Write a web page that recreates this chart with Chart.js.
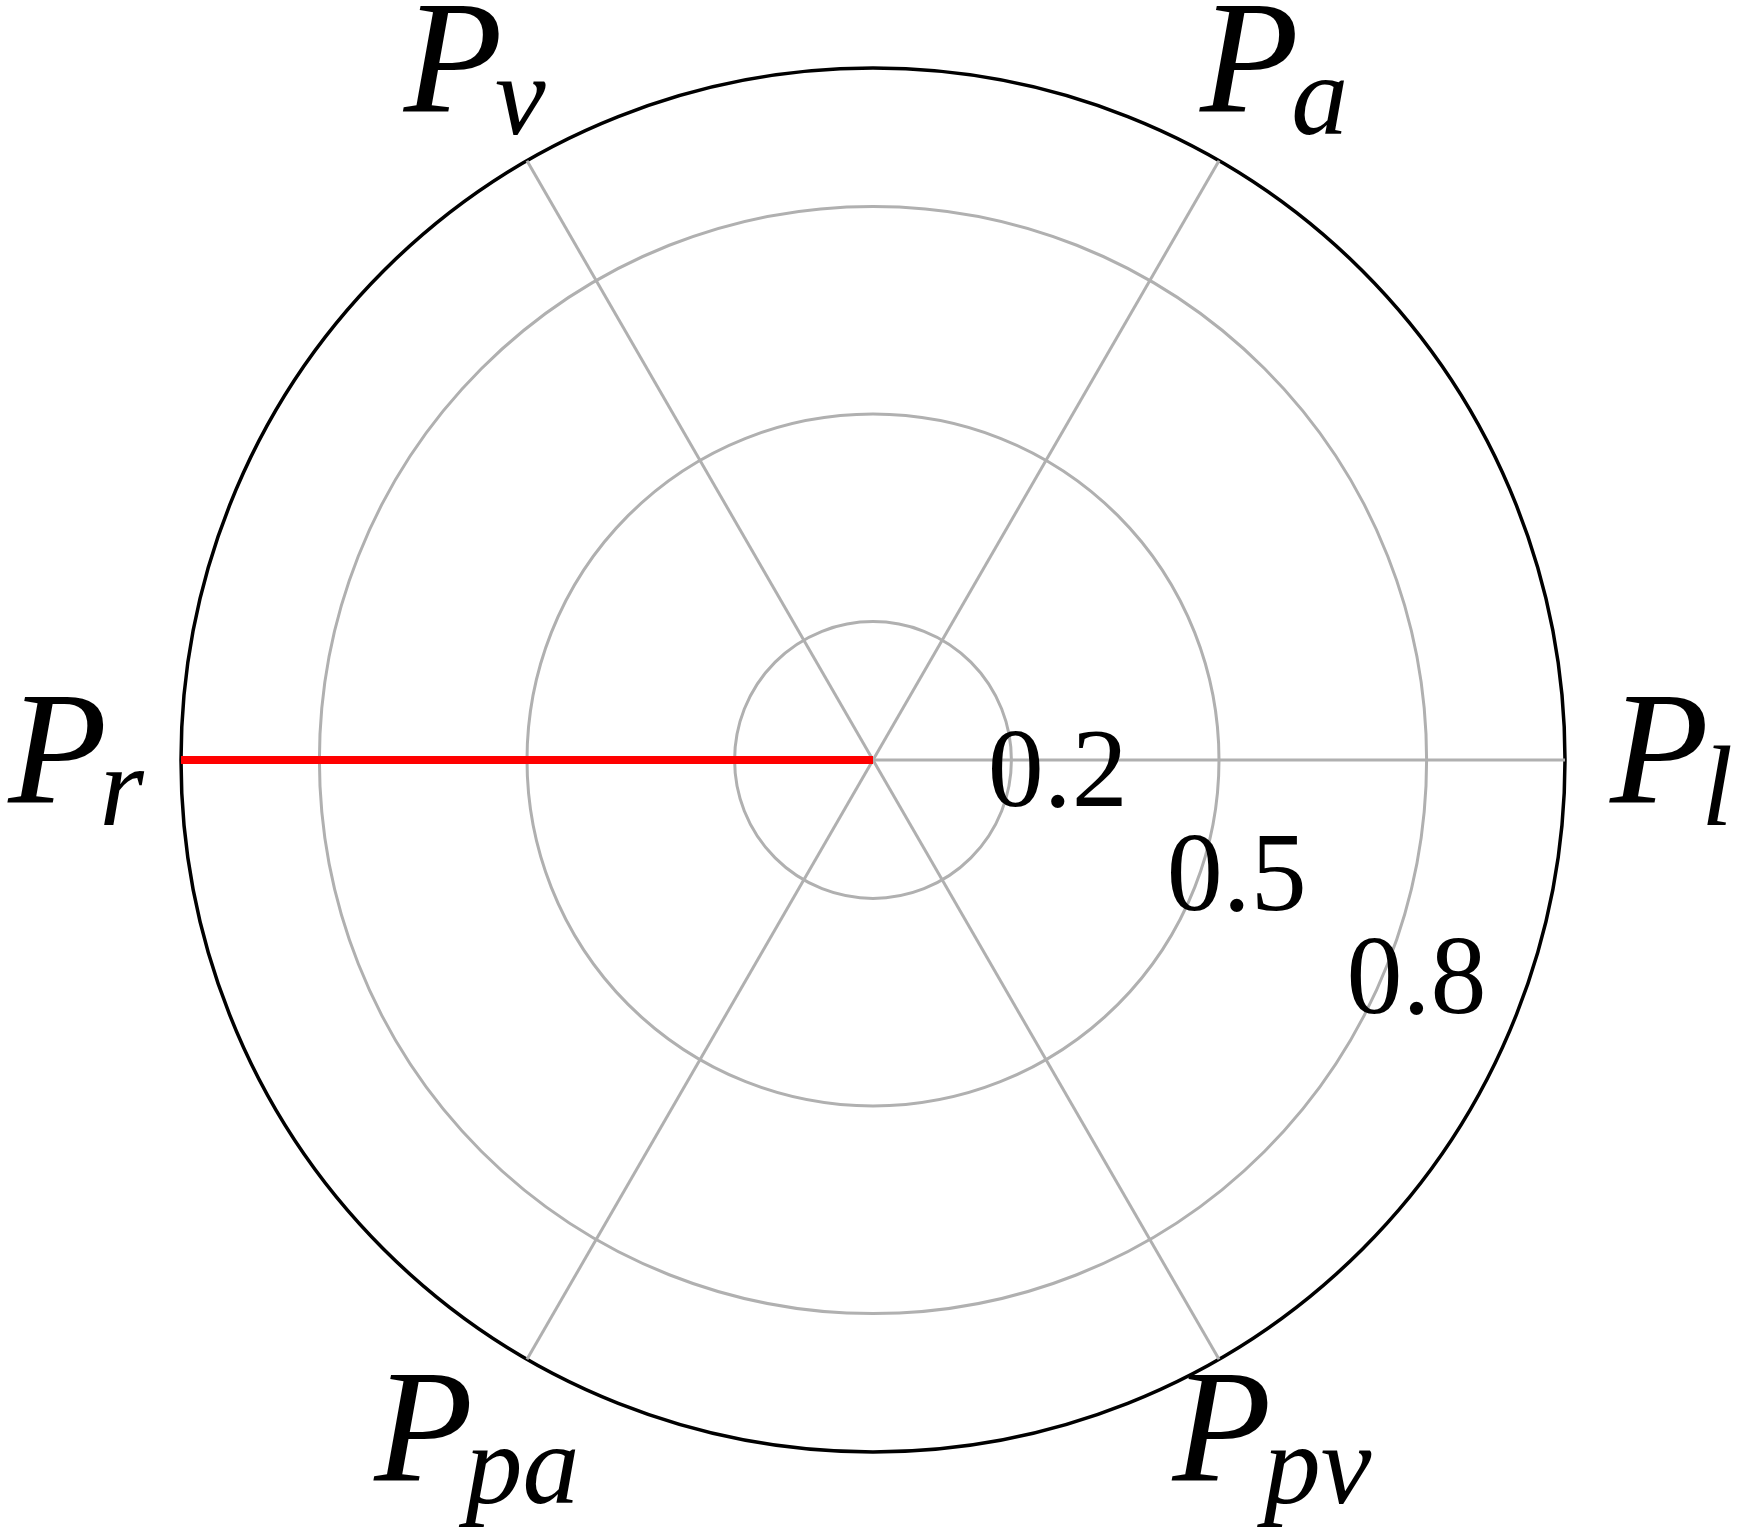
<!DOCTYPE html>
<html>
<head>
<meta charset="utf-8">
<title>Polar</title>
<script src="https://cdn.jsdelivr.net/npm/chart.js@4.4.1/dist/chart.umd.min.js"></script>
<style>
  html, body { margin: 0; padding: 0; background: #fff; }
  #wrap { width: 1738px; height: 1530px; }
</style>
</head>
<body>
<div id="wrap"><canvas id="chart" width="1738" height="1530"></canvas></div>
<script>
// оси по часовой стрелке, начиная справа
const axisLabels = ['P_l', 'P_pv', 'P_pa', 'P_r', 'P_v', 'P_a'];
const seriesValues = [0, 0, 0, 1, 0, 0];
const radialTicks = [0, 0.2, 0.5, 0.8, 1.0];
const tickLabels = ['0.2', '0.5', '0.8'];
const tickLabelValues = [0.2, 0.5, 0.8];

const GRID_GRAY = '#b0b0b0';
const MAIN_SIZE = 162;
const SUB_SIZE = 114;
const TICK_SIZE = 112;

// подписи осей и делений рисуем сами (нужны индексы)
const mathLabels = {
  id: 'mathLabels',
  afterDraw(chart) {
    const s = chart.scales.r;
    const ctx = chart.ctx;
    ctx.save();
    ctx.fillStyle = '#000';
    ctx.textAlign = 'left';
    ctx.textBaseline = 'alphabetic';

    // деления вдоль луча -30°
    ctx.font = `${TICK_SIZE}px "Liberation Serif"`;
    const a = Math.PI / 6;
    tickLabelValues.forEach((v, i) => {
      const d = s.getDistanceFromCenterForValue(v);
      const cx = s.xCenter + d * Math.cos(a) + 64;
      const cy = s.yCenter + d * Math.sin(a) - 60;
      const m = ctx.measureText(tickLabels[i]);
      const w = m.actualBoundingBoxLeft + m.actualBoundingBoxRight;
      const h = m.actualBoundingBoxAscent + m.actualBoundingBoxDescent;
      ctx.fillText(tickLabels[i], cx - w / 2 + m.actualBoundingBoxLeft, cy + h / 2 - m.actualBoundingBoxDescent);
    });

    // P с индексом
    const mainFont = `italic ${MAIN_SIZE}px "Liberation Serif"`;
    const subFont = `italic ${SUB_SIZE}px "Liberation Serif"`;
    const subShift = 23;
    axisLabels.forEach((lbl, i) => {
      const [main, sub] = lbl.split('_');
      const pos = s.getPointPosition(i, s.drawingArea * 1.152);
      ctx.font = mainFont;
      const mm = ctx.measureText(main);
      ctx.font = subFont;
      const ms = ctx.measureText(sub);
      const subX = -mm.actualBoundingBoxLeft + 0.57 * MAIN_SIZE;
      const left = -mm.actualBoundingBoxLeft;
      const right = Math.max(mm.actualBoundingBoxRight, subX + ms.actualBoundingBoxRight);
      const top = -mm.actualBoundingBoxAscent;
      const bottom = Math.max(mm.actualBoundingBoxDescent, subShift + ms.actualBoundingBoxDescent);
      const ox = pos.x - (left + right) / 2;
      const oy = pos.y - (top + bottom) / 2;
      ctx.font = mainFont;
      ctx.fillText(main, ox, oy);
      ctx.font = subFont;
      ctx.fillText(sub, ox + subX, oy + subShift);
    });
    ctx.restore();
  }
};

new Chart(document.getElementById('chart'), {
  type: 'radar',
  data: {
    labels: axisLabels,
    datasets: [{
      data: seriesValues,
      borderColor: '#ff0000',
      borderWidth: 8,
      fill: false,
      pointRadius: 0,
      tension: 0,
    }],
  },
  options: {
    responsive: false,
    animation: false,
    elements: { line: { borderWidth: 8, borderColor: '#ff0000', borderJoinStyle: 'miter' } },
    layout: { padding: { left: 181, right: 173, top: 68, bottom: 78 } },
    plugins: { legend: { display: false }, tooltip: { enabled: false } },
    scales: {
      r: {
        min: 0,
        max: 1,
        startAngle: 90,
        afterBuildTicks: (scale) => { scale.ticks = radialTicks.map(v => ({ value: v })); },
        ticks: { display: false },
        pointLabels: { display: false },
        grid: {
          circular: true,
          color: ctx => ctx.tick && ctx.tick.value === 1 ? '#000000' : GRID_GRAY,
          lineWidth: ctx => ctx.tick && ctx.tick.value === 1 ? 3.5 : 3,
        },
        angleLines: { color: GRID_GRAY, lineWidth: 3 },
      },
    },
  },
  plugins: [mathLabels],
});
</script>
</body>
</html>
